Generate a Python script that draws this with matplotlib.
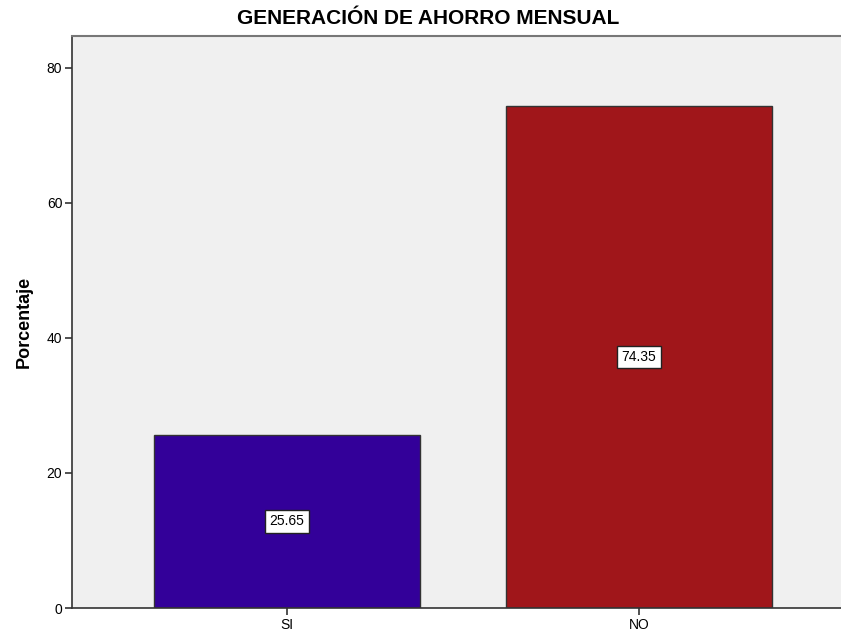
import matplotlib.pyplot as plt

categorias = ["SI", "NO"]
porcentajes = [25.65, 74.35]
colores = ["#330099", "#a0161a"]

plt.rcParams['font.family'] = ['Liberation Sans', 'DejaVu Sans']

fig = plt.figure(figsize=(8.41, 6.35), dpi=100)
ax = fig.add_axes([72 / 841, 1 - 608 / 635, (841 - 72) / 841, (608 - 36) / 635])
ax.set_facecolor("#f0f0f0")

x = list(range(len(categorias)))
ax.bar(x, porcentajes, width=0.756, color=colores, edgecolor="#333333", linewidth=1)

for xi, v in zip(x, porcentajes):
    ax.text(xi, v / 2, f"{v:.2f}", ha="center", va="center", fontsize=10,
            bbox=dict(boxstyle="square,pad=0.3", facecolor="white", edgecolor="#222222", linewidth=1))

ax.set_xlim(-0.611, 1.574)
ax.set_ylim(0, 84.7)
ax.set_xticks(x)
ax.set_xticklabels(categorias)
ax.set_yticks([0, 20, 40, 60, 80])
ax.tick_params(axis="both", length=5, width=1.2, color="#333333", labelsize=10, pad=2)

ax.spines["right"].set_visible(False)
ax.spines["left"].set_color("#333333")
ax.spines["bottom"].set_color("#333333")
ax.spines["top"].set_color("#777777")
ax.spines["left"].set_linewidth(1.2)
ax.spines["bottom"].set_linewidth(1.2)
ax.spines["top"].set_linewidth(1.5)

ax.set_ylabel("Porcentaje", fontsize=13, fontweight="bold", labelpad=10)
fig.text(428 / 841, 1 - 19 / 635, "GENERACIÓN DE AHORRO MENSUAL", ha="center", va="center",
         fontsize=15, fontweight="bold")

fig.savefig("out.png", dpi=100)
